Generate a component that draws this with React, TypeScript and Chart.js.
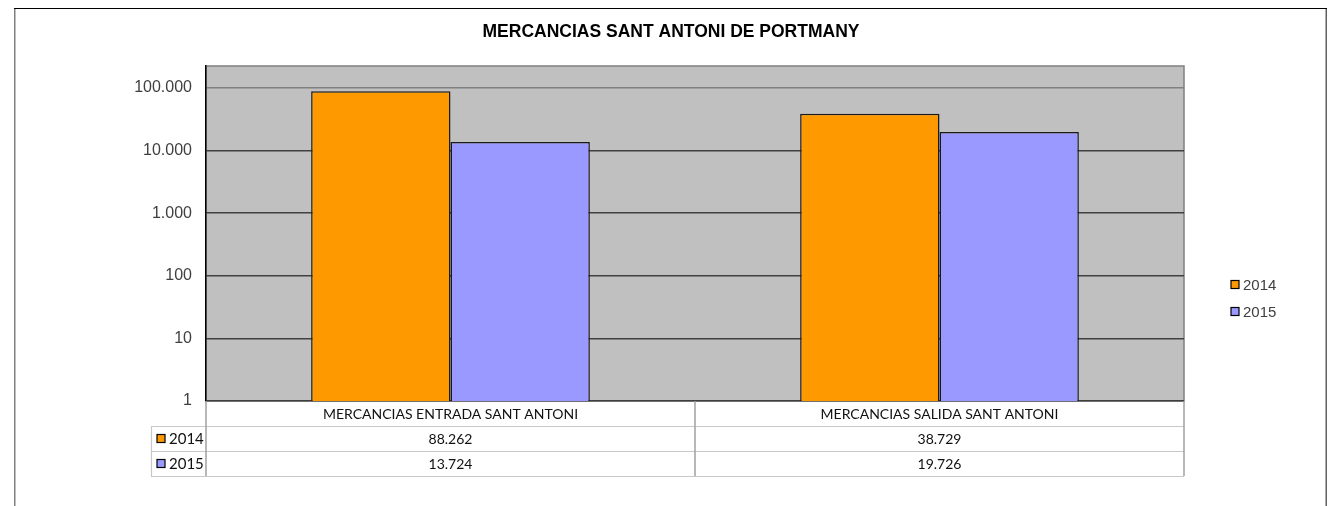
import React, { useEffect, useRef } from "react";
import { Chart, registerables } from "chart.js";

Chart.register(...registerables);

const chartTitle = "MERCANCIAS SANT ANTONI DE PORTMANY";
const categories = ["MERCANCIAS ENTRADA SANT ANTONI", "MERCANCIAS SALIDA SANT ANTONI"];
const seriesNames = ["2014", "2015"];
const values2014 = [88262, 38729];
const values2015 = [13724, 19726];
const seriesColors = ["#FF9900", "#9999FF"];
const yTickValues = [1, 10, 100, 1000, 10000, 100000];
const yTickLabels = ["1", "10", "100", "1.000", "10.000", "100.000"];
const yMin = 1;
const yMax = 224000;

const formatNum = (v: number) => String(v).replace(/\B(?=(\d{3})+(?!\d))/g, ".");

const W = 1328;
const H = 506;

const decorPlugin = {
  id: "decor",
  beforeDraw(chart: any) {
    const { ctx, chartArea: a } = chart;
    ctx.save();
    ctx.fillStyle = "#ffffff";
    ctx.fillRect(0, 0, chart.width, chart.height);
    // outer frame
    ctx.lineWidth = 1.5;
    ctx.strokeStyle = "#808080";
    ctx.beginPath();
    ctx.moveTo(14.75, 8);
    ctx.lineTo(14.75, chart.height);
    ctx.stroke();
    ctx.strokeStyle = "#606060";
    ctx.beginPath();
    ctx.moveTo(1326.25, 8);
    ctx.lineTo(1326.25, chart.height);
    ctx.stroke();
    ctx.strokeStyle = "#000000";
    ctx.lineWidth = 1.2;
    ctx.beginPath();
    ctx.moveTo(14, 8.5);
    ctx.lineTo(1327, 8.5);
    ctx.stroke();
    // plot background
    ctx.fillStyle = "#C0C0C0";
    ctx.fillRect(a.left, a.top, a.right - a.left, a.bottom - a.top);
    ctx.strokeStyle = "#808080";
    ctx.lineWidth = 1.5;
    ctx.strokeRect(a.left, a.top, a.right - a.left, a.bottom - a.top);
    // title
    ctx.fillStyle = "#000000";
    ctx.font = "bold 17.5px 'Liberation Sans', Arial, sans-serif";
    ctx.textAlign = "center";
    ctx.textBaseline = "middle";
    ctx.fillText(chartTitle, 671, 32);
    ctx.restore();
  },
  afterDraw(chart: any) {
    const { ctx, chartArea: a } = chart;
    const xs = chart.scales.x;
    const n = categories.length;
    const step = (a.right - a.left) / n;
    const rowH = 25;
    const top = a.bottom;
    const labelLeft = 151;
    ctx.save();
    // table grid lines
    ctx.lineWidth = 1.2;
    ctx.strokeStyle = "#C8C8C8";
    for (let r = 1; r <= 3; r++) {
      const y = top + r * rowH + 0.5;
      ctx.beginPath();
      ctx.moveTo(labelLeft, y);
      ctx.lineTo(a.right, y);
      ctx.stroke();
    }
    ctx.beginPath();
    ctx.moveTo(labelLeft + 0.5, top + rowH);
    ctx.lineTo(labelLeft + 0.5, top + 3 * rowH);
    ctx.stroke();
    ctx.strokeStyle = "#A0A0A0";
    ctx.lineWidth = 1.5;
    for (let c = 0; c <= n; c++) {
      const x = a.left + c * step;
      ctx.beginPath();
      ctx.moveTo(x, top);
      ctx.lineTo(x, top + 3 * rowH);
      ctx.stroke();
    }
    // text
    ctx.fillStyle = "#111111";
    ctx.font = "14px Lato, 'Noto Sans', sans-serif";
    ctx.textAlign = "center";
    ctx.textBaseline = "middle";
    const rows = [values2014, values2015];
    categories.forEach((cat, i) => {
      const cx = xs.getPixelForValue(i);
      ctx.fillText(cat, cx, top + rowH / 2 + 1);
      rows.forEach((vals, r) => {
        ctx.fillText(formatNum(vals[i]), cx, top + rowH * (r + 1) + rowH / 2 + 1);
      });
    });
    // row labels with keys
    seriesNames.forEach((name, r) => {
      const cy = top + rowH * (r + 1) + rowH / 2;
      ctx.fillStyle = seriesColors[r];
      ctx.fillRect(157, cy - 4, 8, 8);
      ctx.strokeStyle = "#000";
      ctx.lineWidth = 1.2;
      ctx.strokeRect(157, cy - 4, 8, 8);
      ctx.fillStyle = "#111111";
      ctx.textAlign = "left";
      ctx.font = "15px Lato, 'Noto Sans', sans-serif";
      ctx.fillText(name, 169, cy + 1);
    });
    // right legend
    ctx.font = "15px 'Liberation Sans', Arial, sans-serif";
    seriesNames.forEach((name, r) => {
      const cy = 284.5 + r * 27;
      ctx.fillStyle = seriesColors[r];
      ctx.fillRect(1231, cy - 4, 8, 8);
      ctx.strokeStyle = "#000";
      ctx.lineWidth = 1.2;
      ctx.strokeRect(1231, cy - 4, 8, 8);
      ctx.fillStyle = "#404040";
      ctx.textAlign = "left";
      ctx.fillText(name, 1243, cy + 1);
    });
    ctx.restore();
  },
};

export default function App() {
  const ref = useRef<HTMLCanvasElement | null>(null);
  useEffect(() => {
    if (!ref.current) return;
    const chart = new Chart(ref.current, {
      type: "bar",
      data: {
        labels: categories,
        datasets: [
          {
            label: seriesNames[0],
            data: values2014,
            backgroundColor: seriesColors[0],
            borderColor: "#1a1a1a",
            borderWidth: 1.5,
          },
          {
            label: seriesNames[1],
            data: values2015,
            backgroundColor: seriesColors[1],
            borderColor: "#1a1a1a",
            borderWidth: 1.5,
          },
        ],
      },
      options: {
        responsive: false,
        animation: false,
        devicePixelRatio: 1,
        layout: { padding: { left: 116, top: 66, right: 144, bottom: 105 } },
        datasets: { bar: { categoryPercentage: 0.57, barPercentage: 1.0 } },
        plugins: {
          legend: { display: false },
          title: { display: false },
          tooltip: { enabled: false },
        },
        scales: {
          x: { display: false },
          y: {
            type: "logarithmic",
            min: yMin,
            max: yMax,
            afterFit: (s: any) => {
              s.width = 90;
            },
            afterBuildTicks: (s: any) => {
              s.ticks = yTickValues.map((v) => ({ value: v }));
            },
            border: { display: true, color: "#000000", width: 1.5 },
            grid: {
              drawTicks: false,
              lineWidth: 1.5,
              color: (c: any) => (c.tick && c.tick.value === 100000 ? "#808080" : "#404040"),
            },
            ticks: {
              padding: 14,
              color: "#404040",
              font: { family: "'Liberation Sans', Arial, sans-serif", size: 16 },
              callback: (v: any) => {
                const i = yTickValues.indexOf(Number(v));
                return i >= 0 ? yTickLabels[i] : "";
              },
            },
          },
        },
      },
      plugins: [decorPlugin],
    } as any);
    return () => chart.destroy();
  }, []);
  return (
    <div style={{ position: "fixed", left: 0, top: 0, width: W, height: H }}>
      <canvas ref={ref} width={W} height={H} />
    </div>
  );
}
